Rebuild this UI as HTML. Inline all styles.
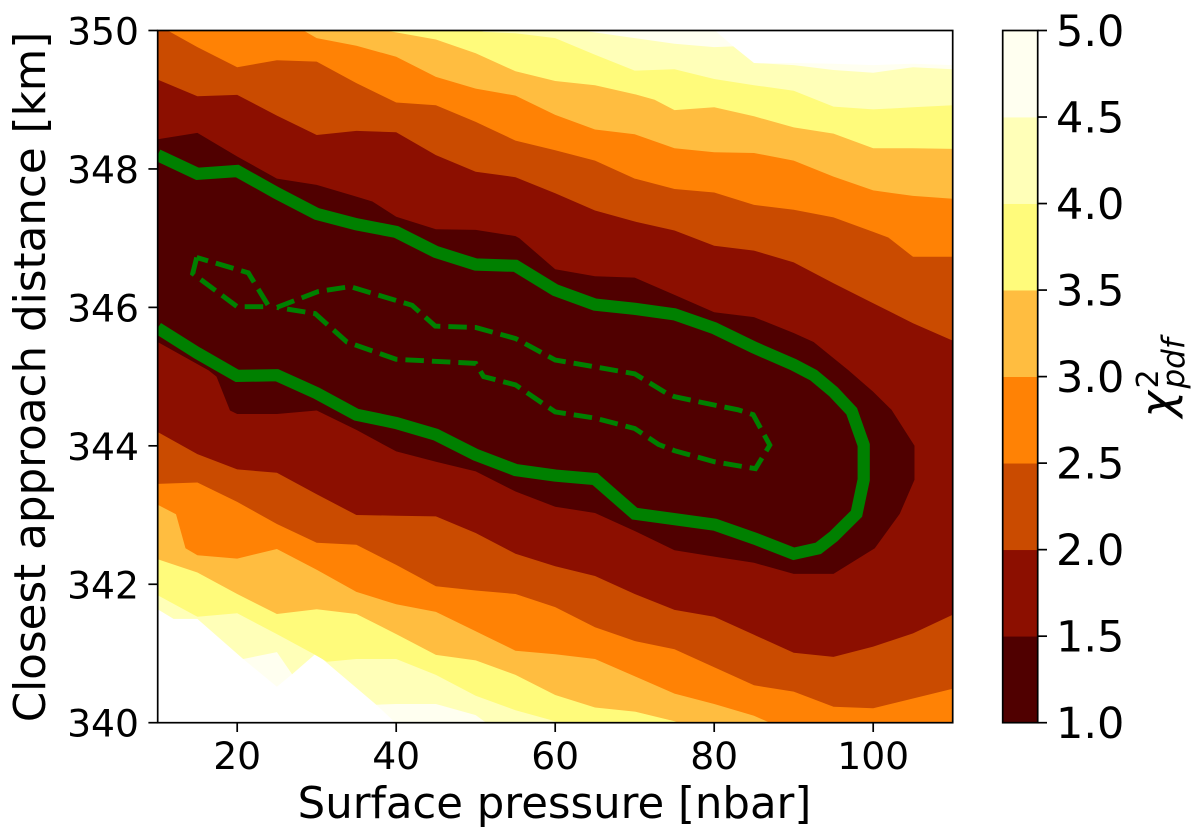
<!DOCTYPE html>
<html lang="en">
<head>
<meta charset="utf-8">
<title>Chi-square contour map</title>
<style>
html,body{margin:0;padding:0;background:#fff;width:1200px;height:837px;overflow:hidden}
svg{display:block;font-family:"DejaVu Sans","Liberation Sans",sans-serif;fill:#000}
</style>
</head>
<body>
<svg id="chart" xmlns="http://www.w3.org/2000/svg" width="1200" height="837" viewBox="0 0 1200 837">
  <defs><clipPath id="plot-clip"><rect x="157.7" y="30.5" width="795" height="692.2"/></clipPath></defs>
  <g id="regions" clip-path="url(#plot-clip)"></g>
  <g id="green-lines" clip-path="url(#plot-clip)"></g>
  <g id="axes"></g>
  <g id="colorbar"></g>
  <text x="554.5" y="818" text-anchor="middle" font-size="43.4">Surface pressure [nbar]</text>
  <text transform="translate(45,377) rotate(-90)" text-anchor="middle" font-size="43.6">Closest approach distance [km]</text>
  <g font-style="italic">
    <text transform="translate(1173,417.5) rotate(-90)" font-size="45">χ</text>
    <text transform="translate(1158,388.5) rotate(-90)" font-size="30" font-style="normal">2</text>
    <text transform="translate(1184,388.5) rotate(-90)" font-size="31">pdf</text>
  </g>
</svg>
<script>
const xTicks = [20, 40, 60, 80, 100];
const yTicks = [340, 342, 344, 346, 348, 350];
const chiLevels = [1, 1.5, 2, 2.5, 3, 3.5, 4, 4.5, 5];
const chiLabels = ['1.0', '1.5', '2.0', '2.5', '3.0', '3.5', '4.0', '4.5', '5.0'];
const bandColors = ['#500000', '#8c0f00', '#ca4b00', '#ff8205', '#ffbd40', '#fffb7b', '#ffffb8', '#fffff0'];

const regionBelow50 = [[10,350.5],[78,350.2],[80.3,349.98],[82.4,349.77],[85,349.53],[90,349.53],[95,349.52],[100,349.5],[105,349.52],[110,349.5],[110,339.5],[45,339.5],[39.9,340],[37.5,340.26],[29.9,341],[26.9,340.7],[25,340.52],[20.75,340.92],[15,341.5],[12,341.5],[10,341.64]];
const regionBelow45 = [[10,350.5],[50,350.3],[60,350.06],[64.5,349.98],[70,349.89],[75,349.81],[80,349.76],[82.4,349.77],[85,349.53],[90,349.5],[95,349.43],[100,349.39],[105,349.47],[110,349.44],[110,339.5],[55,339.5],[51.2,340.01],[50,340.11],[45,340.27],[40,340.27],[37.5,340.26],[29.9,341],[26.9,340.7],[25,341.02],[20.75,340.92],[15,341.5],[12,341.5],[10,341.64]];
const regionBelow40 = [[10,350.5],[45,350.2],[51,349.98],[55,349.96],[60,349.89],[65,349.65],[70,349.42],[75,349.44],[80,349.3],[85,349.21],[90,349.13],[95,348.9],[100,348.86],[105,348.89],[110,348.92],[110,339.5],[65,339.5],[60,340.02],[55,340.18],[50,340.39],[45,340.69],[40,340.92],[35,340.92],[31.3,340.88],[29.5,341],[25,341.28],[20,341.58],[15,341.53],[10,341.84]];
const regionBelow35 = [[10,350.5],[30,350.3],[39.2,349.99],[45,349.87],[50,349.67],[55,349.41],[60,349.27],[65,349.21],[70,349.08],[72.5,349],[75,348.85],[80,348.89],[85,348.76],[90,348.6],[95,348.51],[100,348.3],[105,348.3],[110,348.29],[110,339.5],[80,339.8],[75,340.02],[70,340.16],[65,340.22],[60,340.4],[55,340.69],[50,340.9],[45,340.98],[40,341.28],[35,341.57],[30,341.64],[25,341.57],[20,341.86],[15,342.17],[10,342.36]];
const regionBelow30 = [[10,350.5],[25,350.25],[28.5,349.99],[30,349.89],[35,349.78],[40,349.62],[45,349.33],[50,349.16],[55,349.06],[60,348.78],[65,348.57],[70,348.5],[75,348.3],[80,348.24],[85,348.23],[90,348.12],[95,347.89],[100,347.69],[105,347.61],[110,347.57],[110,339.5],[90,339.85],[85,340.1],[80,340.27],[75,340.42],[70,340.67],[65,340.92],[60,340.99],[55,341.04],[50,341.32],[45,341.6],[40,341.71],[35,341.89],[30,342.21],[25,342.51],[20,342.37],[15,342.42],[13.5,342.52],[12.3,343.01],[10,343.15]];
const regionBelow25 = [[10,350.08],[15,349.76],[20,349.47],[25,349.57],[30,349.55],[35,349.24],[40,348.96],[45,348.92],[50,348.68],[55,348.41],[60,348.27],[65,348.12],[70,347.86],[75,347.71],[80,347.66],[85,347.48],[90,347.41],[95,347.3],[100,347.09],[101.9,347.01],[105,346.73],[110,346.73],[110,340.49],[105,340.35],[100,340.21],[95,340.23],[90,340.45],[85,340.54],[80,340.8],[75,341.06],[70,341.18],[65,341.38],[60,341.67],[55,341.86],[50,341.91],[45,341.97],[40,342.28],[35,342.57],[30,342.6],[25,342.87],[20,343.19],[15,343.47],[10,343.45]];
const regionBelow20 = [[10,349.29],[15,349.05],[20,349.07],[25,348.77],[30,348.49],[35,348.55],[40,348.53],[45,348.2],[50,347.96],[55,347.88],[60,347.65],[65,347.4],[70,347.24],[75,347.11],[80,346.89],[85,346.82],[90,346.65],[95,346.35],[100,346.06],[105,345.77],[110,345.52],[110,341.56],[105,341.29],[100,341.1],[95,340.95],[90,341.01],[85,341.27],[80,341.53],[75,341.63],[70,341.86],[65,342.12],[60,342.26],[55,342.44],[50,342.74],[45,342.98],[40,342.99],[35,343],[30,343.3],[25,343.61],[20,343.66],[15,343.88],[10,344.2]];
const regionBelow15 = [[10,348.43],[15,348.52],[20,348.18],[25,347.86],[30,347.77],[35,347.6],[37,347.53],[40,347.31],[45,347.13],[50,347.12],[55,347.03],[55.5,347],[60,346.55],[65,346.45],[70,346.43],[75,346.18],[80,345.93],[85,345.86],[90,345.63],[92.5,345.5],[96.9,345.09],[100,344.78],[102.3,344.52],[105.2,344],[105.2,343.51],[103.35,343.02],[100.2,342.52],[95,342.15],[90,342.15],[85,342.31],[80,342.4],[75,342.49],[70,342.77],[65,343.03],[60,343.12],[55,343.34],[50,343.63],[45,343.77],[40,343.92],[35,344.23],[30,344.51],[25,344.46],[20,344.46],[19.1,344.51],[17.4,345],[16.4,345.09],[10,345.5]];

const thickContour = [[10,348.2],[15,347.93],[20,347.97],[25,347.65],[30,347.35],[35,347.2],[40,347.09],[45,346.8],[50,346.62],[55,346.6],[60,346.25],[65,346.04],[70,345.98],[75,345.9],[80,345.7],[85,345.42],[90,345.17],[92.5,345.02],[95,344.78],[97.3,344.5],[98.8,344.01],[98.8,343.51],[97.9,343.02],[95,342.69],[93.1,342.52],[90,342.44],[85.1,342.66],[80.1,342.86],[70,343.02],[65,343.52],[60,343.57],[55,343.65],[50,343.87],[45,344.16],[40,344.33],[35,344.45],[30,344.76],[25,345.02],[20,345.01],[15,345.34],[10,345.7]];
const dashedLoopLeft = [[14.9,346.72],[14.4,346.49],[20,346.01],[24,346.01],[21.4,346.5],[14.9,346.72]];
const dashedLoopMain = [[25,346],[30.2,346.23],[34.2,346.3],[42,346.03],[44.9,345.73],[50,345.71],[55,345.55],[60,345.24],[65,345.14],[70,345.04],[74,344.76],[75,344.71],[80,344.59],[83,344.52],[84.9,344.45],[87,344.01],[85.2,343.67],[80,343.77],[75,343.93],[73,344.02],[70,344.25],[65,344.4],[60,344.49],[55,344.88],[51,345],[50,345.19],[40,345.25],[33.8,345.5],[29.8,345.91],[25,346]];

const filledRegions = [regionBelow50, regionBelow45, regionBelow40, regionBelow35, regionBelow30, regionBelow25, regionBelow20, regionBelow15];
const regionNames = ['region-chi-below-5-0', 'region-chi-below-4-5', 'region-chi-below-4-0', 'region-chi-below-3-5', 'region-chi-below-3-0', 'region-chi-below-2-5', 'region-chi-below-2-0', 'region-chi-below-1-5'];

const NS = 'http://www.w3.org/2000/svg';
const xScale = p => 157.7 + (p - 10) * 7.95;
const yScale = d => 722.7 - (d - 340) * 69.22;
const cbScale = c => 722.7 - (c - 1) * 173.05;
const pathFrom = (pts, close) => pts.map((q, i) => (i ? 'L' : 'M') + xScale(q[0]).toFixed(1) + ' ' + yScale(q[1]).toFixed(1)).join('') + (close ? 'Z' : '');

const regionLayer = document.getElementById('regions');
filledRegions.forEach((pts, i) => {
  const el = document.createElementNS(NS, 'path');
  el.setAttribute('d', pathFrom(pts, true));
  el.setAttribute('fill', bandColors[bandColors.length - 1 - i]);
  
  
  regionLayer.appendChild(el);
});

const lineLayer = document.getElementById('green-lines');
const thick = document.createElementNS(NS, 'path');
thick.setAttribute('d', pathFrom(thickContour, false));
thick.setAttribute('fill', 'none');
thick.setAttribute('stroke', '#008000');
thick.setAttribute('stroke-width', '12.2');
thick.setAttribute('stroke-linejoin', 'miter');


lineLayer.appendChild(thick);

[dashedLoopLeft, dashedLoopMain].forEach(pts => {
  const el = document.createElementNS(NS, 'path');
  el.setAttribute('d', pathFrom(pts, false));
  el.setAttribute('fill', 'none');
  el.setAttribute('stroke', '#008000');
  el.setAttribute('stroke-width', '4.9');
  el.setAttribute('stroke-dasharray', '18.5 8');
  
  
  lineLayer.appendChild(el);
});

function addLine(parent, x1, y1, x2, y2, width) {
  const el = document.createElementNS(NS, 'line');
  el.setAttribute('x1', x1);
  el.setAttribute('y1', y1);
  el.setAttribute('x2', x2);
  el.setAttribute('y2', y2);
  el.setAttribute('stroke', '#000');
  el.setAttribute('stroke-width', width);
  parent.appendChild(el);
  return el;
}
function addText(parent, x, y, str, size, anchor) {
  const el = document.createElementNS(NS, 'text');
  el.setAttribute('x', x);
  el.setAttribute('y', y);
  el.setAttribute('font-size', size);
  el.setAttribute('text-anchor', anchor);
  el.textContent = str;
  parent.appendChild(el);
  return el;
}

const axesLayer = document.getElementById('axes');
const spine = document.createElementNS(NS, 'rect');
spine.setAttribute('x', 157.7);
spine.setAttribute('y', 30.5);
spine.setAttribute('width', 795);
spine.setAttribute('height', 692.2);
spine.setAttribute('fill', 'none');
spine.setAttribute('stroke', '#000');
spine.setAttribute('stroke-width', '1.7');


axesLayer.appendChild(spine);

xTicks.forEach(v => {
  const mark = addLine(axesLayer, xScale(v), 722.7, xScale(v), 732, 1.7);
  
  
  const label = addText(axesLayer, xScale(v), 769, String(v), 37.7, 'middle');
  
  
});
yTicks.forEach(v => {
  const mark = addLine(axesLayer, 148.4, yScale(v), 157.7, yScale(v), 1.7);
  
  
  const label = addText(axesLayer, 139, yScale(v) + 14, String(v), 37.7, 'end');
  
  
});

const cbLayer = document.getElementById('colorbar');
bandColors.forEach((color, i) => {
  const el = document.createElementNS(NS, 'rect');
  el.setAttribute('x', 1002.7);
  el.setAttribute('y', cbScale(chiLevels[i + 1]));
  el.setAttribute('width', 35);
  el.setAttribute('height', cbScale(chiLevels[i]) - cbScale(chiLevels[i + 1]) + 0.4);
  el.setAttribute('fill', color);
  
  
  cbLayer.appendChild(el);
});
const cbFrame = document.createElementNS(NS, 'rect');
cbFrame.setAttribute('x', 1002.7);
cbFrame.setAttribute('y', 30.5);
cbFrame.setAttribute('width', 35);
cbFrame.setAttribute('height', 692.2);
cbFrame.setAttribute('fill', 'none');
cbFrame.setAttribute('stroke', '#000');
cbFrame.setAttribute('stroke-width', '1.7');


cbLayer.appendChild(cbFrame);
chiLevels.forEach((c, i) => {
  const mark = addLine(cbLayer, 1037.7, cbScale(c), 1047, cbScale(c), 1.7);
  
  
  const label = addText(cbLayer, 1056, cbScale(c) + 15.5, chiLabels[i], 43, 'start');
  
  
});
</script>
</body>
</html>
